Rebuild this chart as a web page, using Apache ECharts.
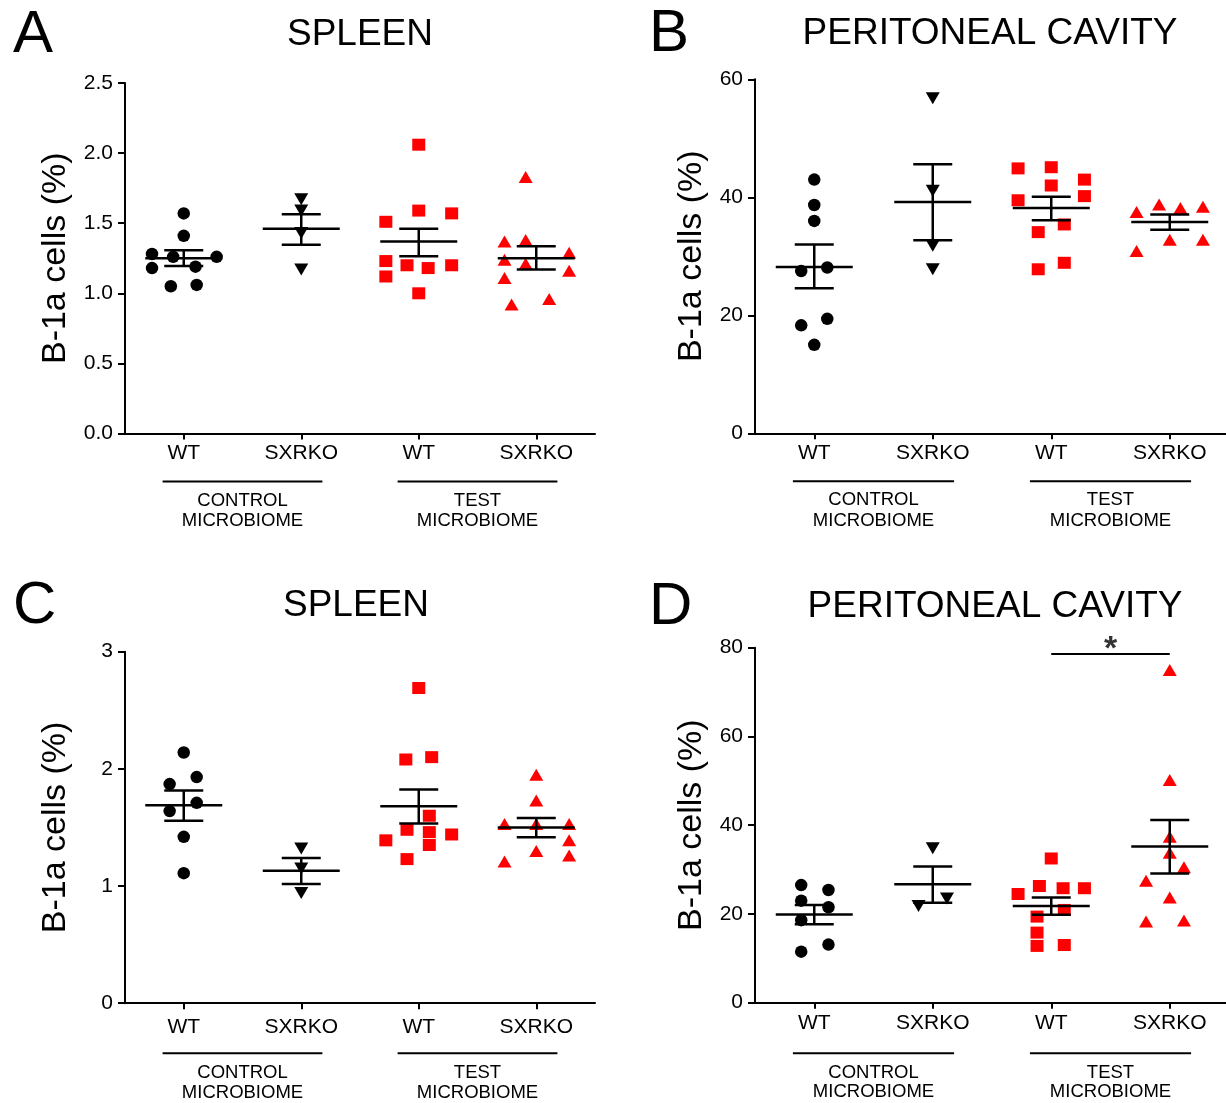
<!DOCTYPE html>
<html><head><meta charset="utf-8">
<script src="https://cdn.jsdelivr.net/npm/echarts@6/dist/echarts.min.js"></script>
<style>html,body{margin:0;padding:0;background:#fff}#c{width:1226px;height:1103px}</style>
</head><body><div id="c"></div>
<script>
// ---------- shared text ----------
const categories = ['WT', 'SXRKO', 'WT', 'SXRKO'];
const groupNames = [['CONTROL', 'MICROBIOME'], ['TEST', 'MICROBIOME']];
const yName = 'B-1a cells (%)';
const panelTitles = ['SPLEEN', 'PERITONEAL CAVITY', 'SPLEEN', 'PERITONEAL CAVITY'];
const panelLetters = ['A', 'B', 'C', 'D'];
const yMaxes = [2.5, 60, 3, 80];
const ySteps = [0.5, 20, 1, 20];
const yDecimals = [1, 0, 0, 0];

// ---------- Panel A (spleen) ----------
const aCtrlWT  = [1.57, 1.41, 1.28, 1.26, 1.26, 1.18, 1.19, 1.05, 1.06];
const aCtrlWTj = [0, 0, -0.27, -0.09, 0.28, -0.27, 0.10, -0.11, 0.11];
const aCtrlKO  = [1.67, 1.59, 1.43, 1.17];
const aCtrlKOj = [0, 0, 0, 0];
const aTestWT  = [2.06, 1.59, 1.57, 1.51, 1.23, 1.20, 1.18, 1.20, 1.12, 1.00];
const aTestWTj = [0, 0, 0.28, -0.28, -0.28, -0.10, 0.08, 0.28, -0.28, 0];
const aTestKO  = [1.83, 1.37, 1.38, 1.29, 1.24, 1.21, 1.16, 1.11, 0.96, 0.92];
const aTestKOj = [-0.09, -0.27, -0.09, 0.28, -0.27, -0.09, 0.28, -0.27, 0.11, -0.21];
const aMean  = [1.25, 1.46, 1.37, 1.25];
const aSemLo = [1.195, 1.347, 1.264, 1.169];
const aSemHi = [1.307, 1.564, 1.461, 1.336];

// ---------- Panel B (peritoneal cavity) ----------
const bCtrlWT  = [43.0, 38.7, 36.0, 27.5, 28.1, 19.4, 18.3, 15.0];
const bCtrlWTj = [0, 0, 0, -0.11, 0.11, 0.11, -0.11, 0];
const bCtrlKO  = [56.8, 41.1, 31.8, 27.8];
const bCtrlKOj = [0, 0, 0, 0];
const bTestWT  = [44.9, 45.1, 43.0, 42.0, 39.5, 40.2, 35.4, 34.1, 28.9, 27.8];
const bTestWTj = [-0.28, 0, 0.28, 0, -0.28, 0.28, 0.11, -0.11, 0.11, -0.11];
const bTestKO  = [37.5, 38.8, 38.2, 38.4, 32.8, 32.8, 30.9];
const bTestKOj = [-0.28, -0.09, 0.09, 0.28, 0, 0.28, -0.28];
const bMean  = [28.2, 39.2, 38.2, 35.8];
const bSemLo = [24.6, 32.7, 36.1, 34.5];
const bSemHi = [32.0, 45.6, 40.1, 37.1];

// ---------- Panel C (spleen) ----------
const cCtrlWT  = [2.14, 1.87, 1.93, 1.71, 1.64, 1.42, 1.11];
const cCtrlWTj = [0, -0.12, 0.11, 0.11, -0.12, 0, 0];
const cCtrlKO  = [1.32, 1.15, 0.94];
const cCtrlKOj = [0, 0, 0];
const cTestWT  = [2.69, 2.08, 2.10, 1.60, 1.48, 1.46, 1.39, 1.44, 1.35, 1.23];
const cTestWTj = [0, -0.11, 0.11, 0.09, -0.10, 0.09, -0.28, 0.28, 0.09, -0.10];
const cTestKO  = [1.95, 1.73, 1.53, 1.53, 1.53, 1.39, 1.30, 1.26, 1.21];
const cTestKOj = [0, 0, -0.27, 0, 0.28, 0.28, 0, 0.28, -0.27];
const cMean  = [1.69, 1.13, 1.68, 1.50];
const cSemLo = [1.558, 1.017, 1.533, 1.416];
const cSemHi = [1.815, 1.239, 1.823, 1.581];

// ---------- Panel D (peritoneal cavity) ----------
const dCtrlWT  = [26.5, 25.4, 23.0, 21.5, 18.6, 13.1, 11.5];
const dCtrlWTj = [-0.11, 0.12, -0.11, 0.12, -0.11, 0.12, -0.11];
const dCtrlKO  = [34.8, 21.8, 23.5];
const dCtrlKOj = [0, -0.12, 0.12];
const dTestWT  = [32.5, 24.5, 26.3, 25.8, 25.8, 20.9, 19.4, 15.8, 12.8, 13.0];
const dTestWTj = [0, -0.28, -0.10, 0.10, 0.28, 0.11, -0.12, -0.12, -0.12, 0.11];
const dTestKO  = [75.0, 50.2, 37.4, 33.8, 30.5, 27.5, 23.7, 18.3, 18.5];
const dTestKOj = [0, 0, 0, 0, 0.12, -0.20, 0, -0.20, 0.12];
const dMean  = [19.9, 26.7, 21.8, 35.2];
const dSemLo = [17.7, 22.5, 19.8, 29.1];
const dSemHi = [22.0, 30.7, 23.7, 41.2];
const dSigGroups = [2, 3];
const dSigY = 78.6;
const dSigText = '*';

// ---------- layout / style ----------
const FF = '"Liberation Sans", Arial, Helvetica, sans-serif';
const panelData = [
  {vals: [aCtrlWT, aCtrlKO, aTestWT, aTestKO], jit: [aCtrlWTj, aCtrlKOj, aTestWTj, aTestKOj], mean: aMean, lo: aSemLo, hi: aSemHi},
  {vals: [bCtrlWT, bCtrlKO, bTestWT, bTestKO], jit: [bCtrlWTj, bCtrlKOj, bTestWTj, bTestKOj], mean: bMean, lo: bSemLo, hi: bSemHi},
  {vals: [cCtrlWT, cCtrlKO, cTestWT, cTestKO], jit: [cCtrlWTj, cCtrlKOj, cTestWTj, cTestKOj], mean: cMean, lo: cSemLo, hi: cSemHi},
  {vals: [dCtrlWT, dCtrlKO, dTestWT, dTestKO], jit: [dCtrlWTj, dCtrlKOj, dTestWTj, dTestKOj], mean: dMean, lo: dSemLo, hi: dSemHi}
];
const layout = [
  {grid: {left: 125, top: 83, width: 470, height: 350.5}, nameGap: 52, catMargin: 9, title: [360, 35], letter: [13, 35], grp: [48, 67, 87.5]},
  {grid: {left: 755, top: 79.3, width: 474, height: 354}, nameGap: 46, catMargin: 9, title: [990, 34], letter: [649, 34.5], grp: [48, 67, 87.5]},
  {grid: {left: 125, top: 651.7, width: 470, height: 351.5}, nameGap: 52, catMargin: 14, title: [356, 606], letter: [13, 606], grp: [50, 69.5, 89.5]},
  {grid: {left: 755, top: 647.7, width: 474, height: 355}, nameGap: 46, catMargin: 10, title: [995, 607], letter: [649, 607], grp: [50.5, 70, 89.5]}
];
const symbols = ['circle', 'triangle', 'rect', 'triangle'];
const symRot = [0, 180, 0, 0];
const symSize = [12.5, [14, 12], [13, 12], [14, 12]];
const symColor = ['#000000', '#000000', '#ff0000', '#ff0000'];

const grids = [], xAxes = [], yAxes = [], series = [];
layout.forEach((L, k) => {
  grids.push(Object.assign({containLabel: false, outerBoundsMode: 'none'}, L.grid));
  xAxes.push({
    gridIndex: k, type: 'category', data: categories, boundaryGap: true,
    axisLine: {show: true, onZero: false, lineStyle: {color: '#000', width: 2}},
    axisTick: {show: true, alignWithLabel: true, length: 6, lineStyle: {color: '#000', width: 2}},
    axisLabel: {fontSize: 21, color: '#000', fontFamily: FF, margin: L.catMargin},
    splitLine: {show: false}
  });
  xAxes.push({gridIndex: k, type: 'value', min: -0.5, max: 3.5, show: false});
  yAxes.push({
    gridIndex: k, type: 'value', min: 0, max: yMaxes[k], interval: ySteps[k],
    name: yName, nameLocation: 'middle', nameGap: L.nameGap, nameRotate: 90,
    nameTextStyle: {fontSize: 34, fontFamily: FF, color: '#000'},
    axisLine: {show: true, onZero: false, lineStyle: {color: '#000', width: 2}},
    axisTick: {show: true, length: 7, lineStyle: {color: '#000', width: 2}},
    axisLabel: {fontSize: 21, color: '#000', fontFamily: FF, margin: 12,
      formatter: v => Number(v).toFixed(yDecimals[k])},
    splitLine: {show: false}
  });
  const P = panelData[k];
  P.vals.forEach((arr, g) => {
    series.push({
      type: 'scatter', xAxisIndex: 2 * k + 1, yAxisIndex: k,
      symbol: symbols[g], symbolRotate: symRot[g], symbolSize: symSize[g],
      itemStyle: {color: symColor[g], opacity: 1},
      data: arr.map((v, i) => [g + P.jit[g][i], v]),
      silent: true, z: 2
    });
  });
  series.push({
    type: 'custom', xAxisIndex: 2 * k + 1, yAxisIndex: k, z: 5, silent: true,
    encode: {x: 0, y: 1},
    data: P.mean.map((m, g) => [g, m, P.lo[g], P.hi[g]]),
    renderItem: (params, api) => {
      const x = api.value(0);
      const pm = api.coord([x, api.value(1)]);
      const pl = api.coord([x, api.value(2)]);
      const ph = api.coord([x, api.value(3)]);
      const st = {stroke: '#000', lineWidth: 2.5};
      const W = 38.5, C = 19.5;
      return {type: 'group', children: [
        {type: 'line', shape: {x1: pm[0] - W, y1: pm[1], x2: pm[0] + W, y2: pm[1]}, style: st},
        {type: 'line', shape: {x1: pl[0], y1: pl[1], x2: ph[0], y2: ph[1]}, style: st},
        {type: 'line', shape: {x1: pl[0] - C, y1: pl[1], x2: pl[0] + C, y2: pl[1]}, style: st},
        {type: 'line', shape: {x1: ph[0] - C, y1: ph[1], x2: ph[0] + C, y2: ph[1]}, style: st}
      ]};
    }
  });
});
// significance bar in panel D
series.push({
  type: 'line', xAxisIndex: 7, yAxisIndex: 3, symbol: 'none', silent: true,
  lineStyle: {color: '#000', width: 2},
  data: [[dSigGroups[0], dSigY], [dSigGroups[1], dSigY]]
});
series.push({
  type: 'scatter', xAxisIndex: 7, yAxisIndex: 3, symbolSize: 1, silent: true,
  itemStyle: {color: 'rgba(0,0,0,0)'},
  label: {show: true, position: 'inside', formatter: dSigText, fontSize: 34, fontWeight: 'bold',
    color: '#000', fontFamily: FF, offset: [0, -4]},
  data: [[(dSigGroups[0] + dSigGroups[1]) / 2, dSigY]]
});

const chart = echarts.init(document.getElementById('c'), null, {renderer: 'canvas'});
chart.setOption({
  animation: false, backgroundColor: '#ffffff',
  grid: grids, xAxis: xAxes, yAxis: yAxes, series: series
});

// decorations: titles, panel letters, group brackets
const graphics = [];
function txt(x, y, text, size, align) {
  return {type: 'text', x: x, y: y, silent: true,
    style: {text: text, fontSize: size, fontFamily: FF, fill: '#000',
      align: align, textAlign: align, verticalAlign: 'middle', textVerticalAlign: 'middle'}};
}
layout.forEach((L, k) => {
  graphics.push(txt(L.title[0], L.title[1], panelTitles[k], 37, 'center'));
  graphics.push(txt(L.letter[0], L.letter[1], panelLetters[k], 60, 'left'));
  const y0 = chart.convertToPixel({yAxisIndex: k}, 0);
  [[0, 1], [2, 3]].forEach((pair, gi) => {
    const x1 = chart.convertToPixel({xAxisIndex: 2 * k + 1}, pair[0] - 0.18);
    const x2 = chart.convertToPixel({xAxisIndex: 2 * k + 1}, pair[1] + 0.18);
    const xm = (x1 + x2) / 2;
    graphics.push({type: 'line', silent: true,
      shape: {x1: x1, y1: y0 + L.grp[0], x2: x2, y2: y0 + L.grp[0]},
      style: {stroke: '#000', lineWidth: 2}});
    graphics.push(txt(xm, y0 + L.grp[1], groupNames[gi][0], 18.5, 'center'));
    graphics.push(txt(xm, y0 + L.grp[2], groupNames[gi][1], 18.5, 'center'));
  });
});
chart.setOption({graphic: graphics});
</script></body></html>
